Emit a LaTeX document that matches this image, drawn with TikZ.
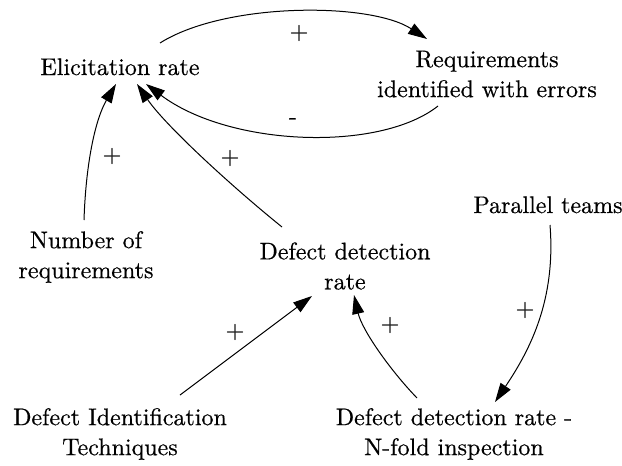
\documentclass[tikz,border=0pt]{standalone}
\usepackage{fontspec}
\newfontfamily\tnr{lmroman10-regular.otf}[FakeBold=0.5]
\usetikzlibrary{arrows.meta}
\begin{document}
\begin{tikzpicture}[x=1pt,y=-1pt,
  lbl/.style={inner sep=0pt,align=center,font=\tnr\fontsize{24}{30}\selectfont},
  sgn/.style={inner sep=0pt,font=\tnr\fontsize{24}{30}\selectfont},
  link/.style={line width=1pt,-{Triangle[length=19pt,width=12pt]}}]
\useasboundingbox[fill=white] (0,0) rectangle (622,466);
\node[lbl,anchor=base] (elic) at (120,75) {Elicitation rate};
\node[lbl] (req) at (487,74) {Requirements\\identified with errors};
\node[lbl] (num) at (86,257) {Number of\\requirements};
\node[lbl] (ddr) at (345,266) {Defect detection\\rate};
\node[lbl,anchor=base] (par) at (548,213) {Parallel teams};
\node[lbl] (dit) at (120,434) {Defect Identification\\Techniques};
\node[lbl] (nf) at (454,434) {Defect detection rate -\\N-fold inspection};
% connector end points
\coordinate (e1) at (160,43);
\coordinate (e2) at (427,39);
\coordinate (r1) at (438,106);
\coordinate (r2) at (146,84);
\coordinate (n1) at (84,220);
\coordinate (n2) at (116,84);
\coordinate (d1) at (282,227);
\coordinate (d2) at (137,84);
\coordinate (p1) at (550,225);
\coordinate (p2) at (495,402);
\coordinate (t1) at (180,395);
\coordinate (t2) at (312,296);
\coordinate (f1) at (417,398);
\coordinate (f2) at (354,295);
\draw[link] (e1) .. controls (225,2) and (370,2) .. (e2);
\draw[link] (r1) .. controls (380,152) and (230,147) .. (r2);
\draw[link] (n1) .. controls (86,160) and (96,118) .. (n2);
\draw[link] (d1) .. controls (230,185) and (165,125) .. (d2);
\draw[link] (p1) .. controls (556,300) and (530,350) .. (p2);
\draw[link] (t1) -- (t2);
\draw[link] (f1) .. controls (390,370) and (362,330) .. (f2);
\node[sgn] (s1) at (299,33) {+};
\node[sgn] (s2) at (293,121) {-};
\node[sgn] (s3) at (112,156) {+};
\node[sgn] (s4) at (230,158) {+};
\node[sgn] (s5) at (525,310) {+};
\node[sgn] (s6) at (235,332) {+};
\node[sgn] (s7) at (390,325) {+};
\end{tikzpicture}
\end{document}
